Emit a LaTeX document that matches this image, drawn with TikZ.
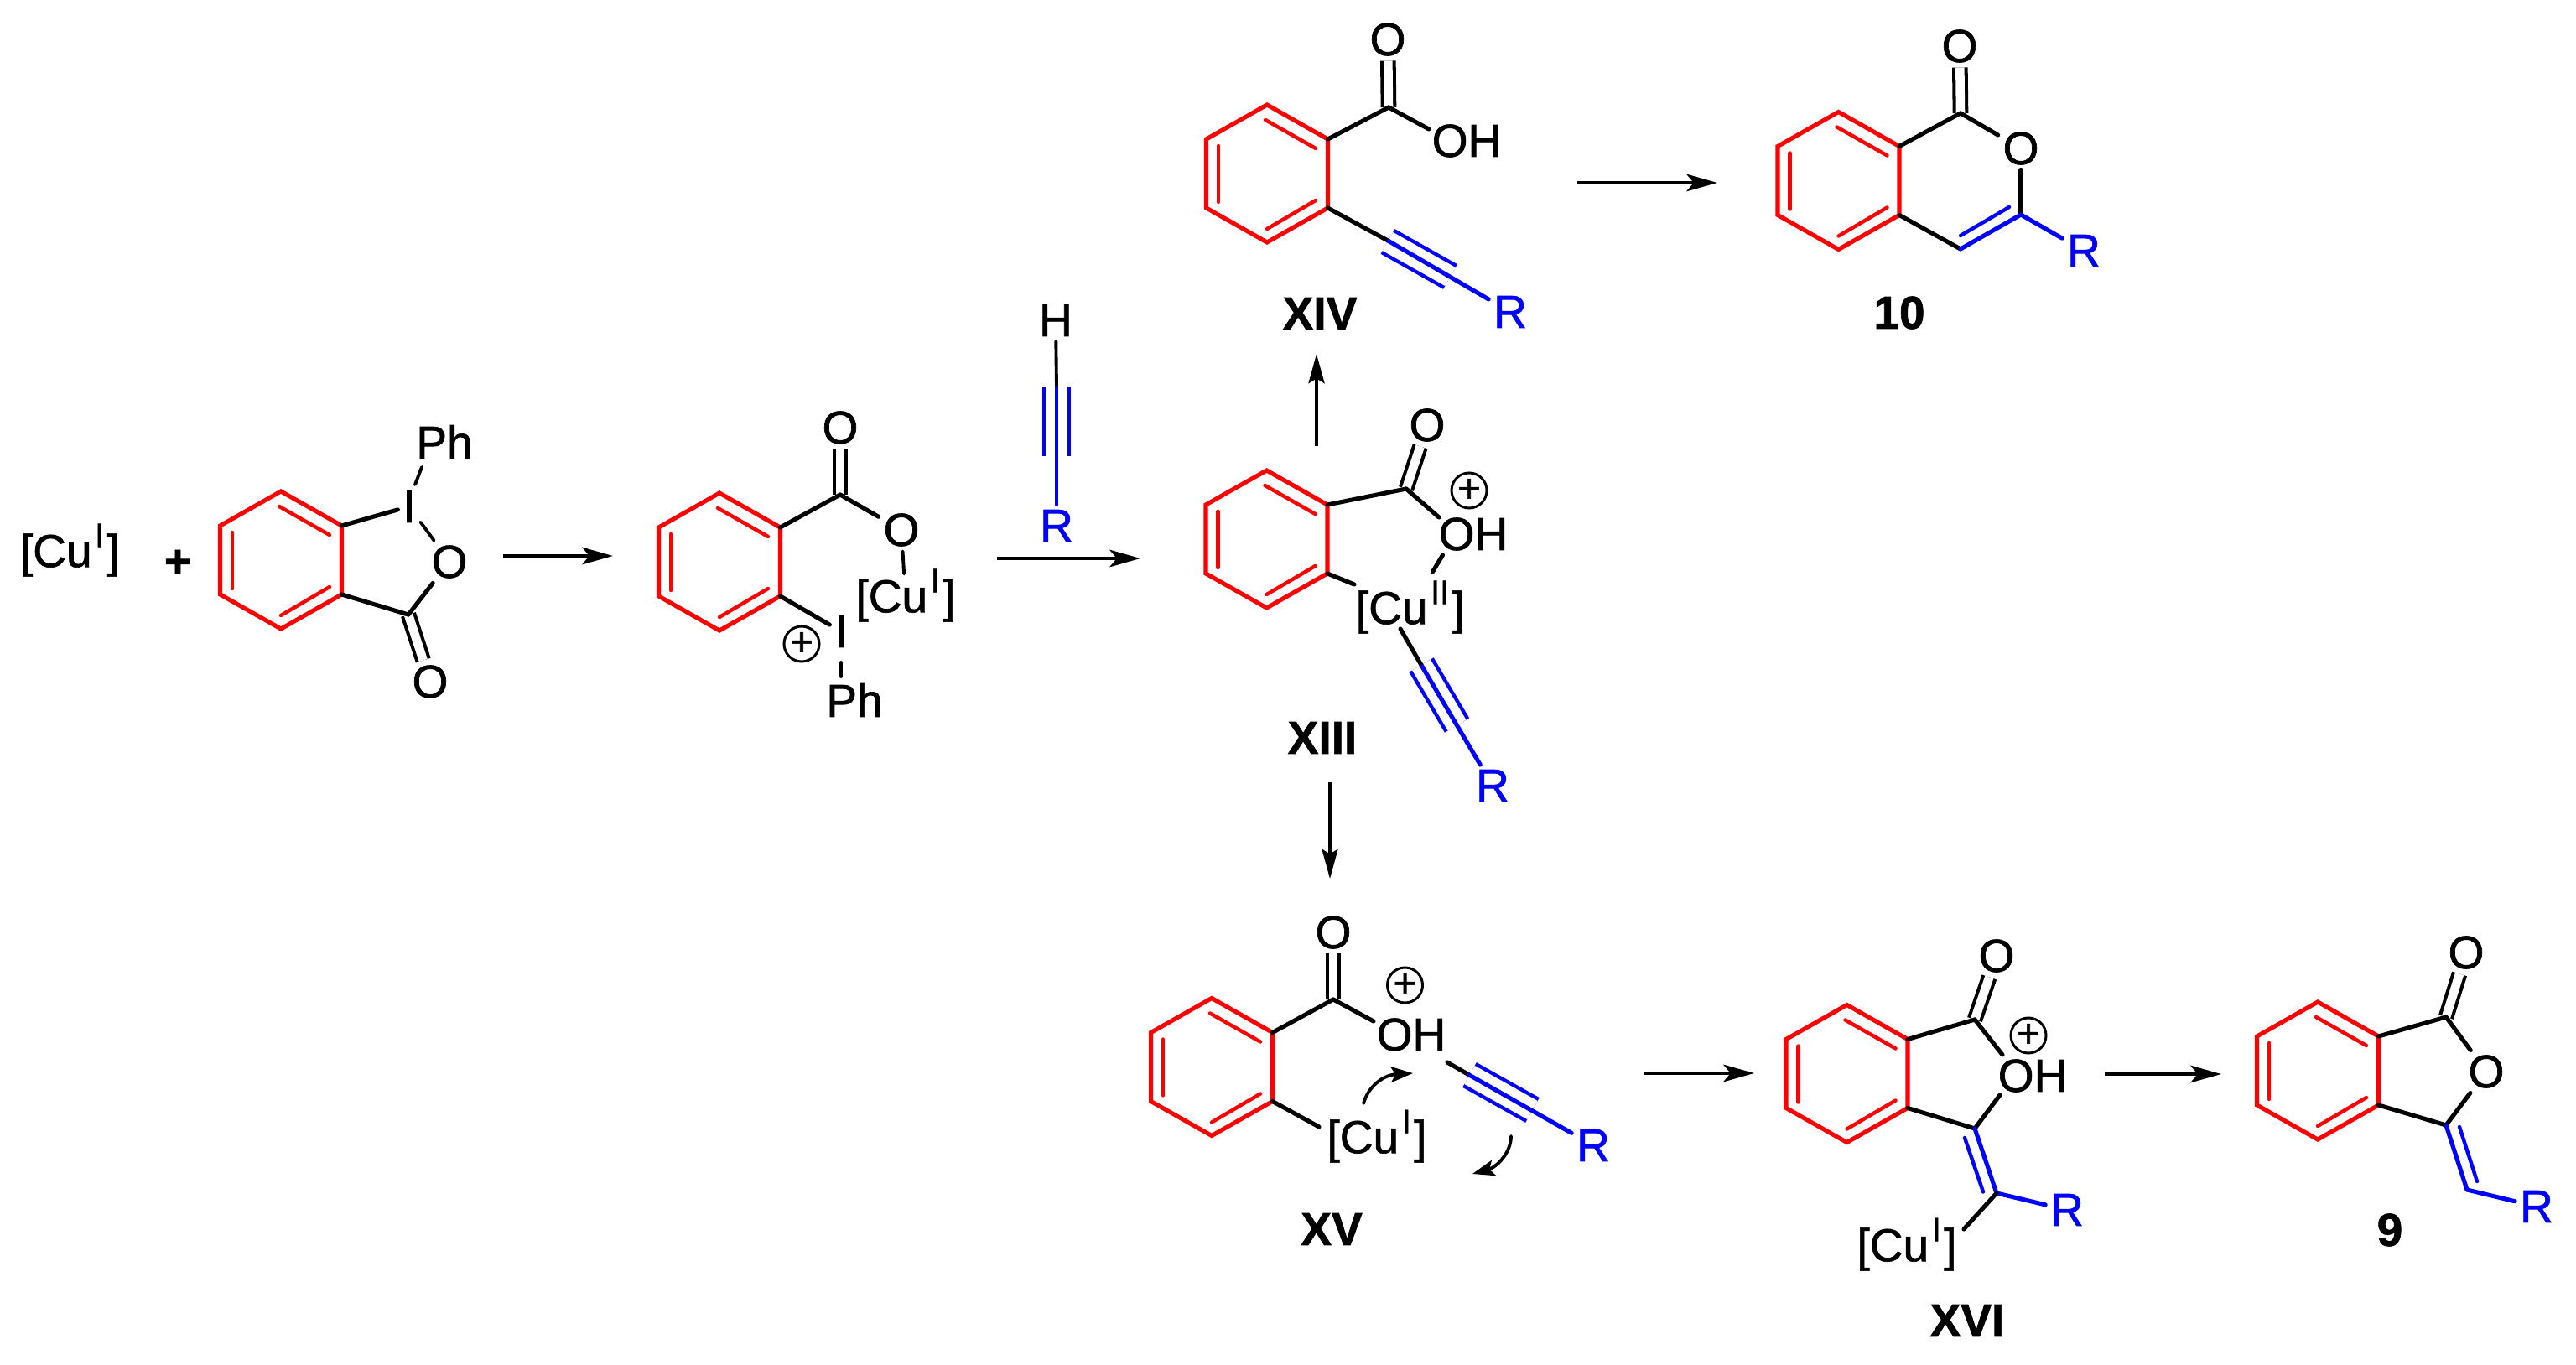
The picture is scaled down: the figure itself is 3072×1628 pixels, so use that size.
\documentclass[tikz,border=0pt]{standalone}
\usepackage{fontspec}
\setmainfont{Liberation Sans}[FakeBold=1.2]
\usetikzlibrary{arrows.meta}
\definecolor{ringred}{rgb}{1,0,0}
\definecolor{alkblue}{rgb}{0,0,1}
\newcommand{\cuox}[1]{[Cu\kern1pt\smash{\raisebox{6.8pt}{\fontsize{11.4pt}{11.4pt}\selectfont #1}}\kern1pt]}
\newcommand{\benzring}[3]{%
  \begin{scope}[shift={(#2,#3)}]
    \coordinate (#1t) at (0,-82);
    \coordinate (#1ur) at (72.5,-41);
    \coordinate (#1lr) at (72.5,41);
    \coordinate (#1b) at (0,82);
    \coordinate (#1ll) at (-72.5,41);
    \coordinate (#1ul) at (-72.5,-41);
    \draw[ringbond] (#1t) -- (#1ur) -- (#1lr) -- (#1b) -- (#1ll) -- (#1ul) -- cycle;
    \draw[ringinner] (-2,-64) -- (58,-30);
    \draw[ringinner] (-58,-33) -- (-58,34);
    \draw[ringinner] (58,32) -- (0,66);
  \end{scope}}
\tikzset{
  every node/.style={inner sep=0pt,font=\fontsize{15.65pt}{18pt}\selectfont},
  atom/.style={inner sep=1.5pt},
  rgroup/.style={inner sep=1.5pt,text=alkblue},
  cpdlabel/.style={font=\fontsize{15.65pt}{18pt}\selectfont\bfseries},
  charge/.style={circle,draw,line width=0.85pt,minimum size=0.42cm,font=\fontsize{13.6pt}{14pt}\selectfont},
  bond/.style={line width=1.45pt,line cap=round,line join=round},
  thinbond/.style={line width=1.1pt,line cap=round},
  bluebond/.style={bond,draw=alkblue},
  bluethin/.style={thinbond,draw=alkblue},
  blueinner/.style={line width=1.25pt,line cap=round,draw=alkblue},
  ringbond/.style={line width=1.45pt,draw=ringred,line join=miter},
  ringinner/.style={line width=1.25pt,line cap=round,draw=ringred},
  dblbond/.style={line width=1.15pt,line cap=butt,double,double distance=3pt},
  tripside/.style={line width=1.25pt,line cap=butt,draw=alkblue,double,double distance=7.2pt},
  rxn/.style={line width=1.3pt,-{Stealth[length=10.4pt,width=5.8pt,inset=2.4pt]}},
  rxnthin/.style={line width=1.1pt,-{Stealth[length=10pt,width=5.4pt,inset=1.6pt]}},
  curly/.style={line width=1.1pt,line cap=round,-{Stealth[length=7.5pt,width=5.4pt,inset=1.6pt]}},
}
\begin{document}
\begin{tikzpicture}[x=0.01cm,y=-0.01cm]
\useasboundingbox (0,0) rectangle (3072,1628);

\node (cuzero) at (83.5,662) {\cuox{I}};
\node[cpdlabel] (plus) at (212,672) {+};

\benzring{pa}{335}{668}
\node[atom] (paI) at (488,604) {I};
\node[atom] (paO) at (536,670) {O};
\node[atom] (paOx) at (513,813) {O};
\node[atom] (paPh) at (530,527) {Ph};
\coordinate (paC) at (487,733);
\coordinate (paIa) at (495,578);
\coordinate (paIb) at (503,557);
\draw[dblbond] (paC) -- (paOx);
\draw[bond] (paur) -- (paI);
\draw[thinbond] (paIa) -- (paIb);
\draw[thinbond] (paI) -- (paO);
\draw[bond] (paO) -- (paC);
\draw[bond] (palr) -- (paC);

\coordinate (arrAa) at (600,663);
\coordinate (arrAb) at (731,663);
\draw[rxn] (arrAa) -- (arrAb);

\benzring{pb}{858}{670}
\coordinate (pbC) at (1002,590);
\node[atom] (pbOx) at (1002,510) {O};
\node[atom] (pbO) at (1075,632) {O};
\node (pbCu) at (1080,716) [atom] {\cuox{I}};
\node[atom] (pbI) at (1003,753) {I};
\node[atom] (pbPh) at (1019,835) {Ph};
\node[charge] (pbplus) at (956,768) {+};
\coordinate (pbIa) at (1003,790);
\coordinate (pbIb) at (1003,807);
\draw[dblbond] (pbC) -- (pbOx);
\draw[bond] (pbur) -- (pbC);
\draw[bond] (pbC) -- (pbO);
\draw[thinbond] (pbO) -- (pbCu);
\draw[bond] (pblr) -- (pbI);
\draw[thinbond] (pbIa) -- (pbIb);

\coordinate (arrBa) at (1189,666);
\coordinate (arrBb) at (1360,666);
\draw[rxn] (arrBa) -- (arrBb);

\node[atom] (ynH) at (1259,382) {H};
\node[rgroup] (ynR) at (1260,627) {R};
\coordinate (ynM) at (1260,462);
\coordinate (ynT) at (1260,461);
\coordinate (ynU) at (1260,544);
\draw[tripside,line width=1.05pt,double distance=7.4pt] (ynT) -- (ynU);
\draw[thinbond] (ynH) -- (ynM);
\draw[bluethin] (ynM) -- (ynR);

\benzring{xiii}{1510.5}{643}
\coordinate (xiiiC) at (1677,583);
\node[atom] (xiiiOx) at (1702,507) {O};
\node[atom] (xiiiOH) at (1757,637) {OH};
\node[charge] (xiiiplus) at (1752,585) {+};
\node (xiiiCu) at (1682,730) {\cuox{II}};
\node[rgroup] (xiiiR) at (1780,937) {R};
\node[cpdlabel] (xiiilab) at (1577,880) {XIII};
\coordinate (xiiiOa) at (1716,617);
\coordinate (xiiiOb) at (1720.5,662);
\coordinate (xiiiOc) at (1708.5,682);
\coordinate (xiiiCa) at (1615,697);
\coordinate (xiiiCb) at (1670,750);
\coordinate (xiiiM) at (1696,795);
\coordinate (xiiiT) at (1695,793);
\coordinate (xiiiU) at (1737.5,865);
\draw[dblbond] (xiiiC) -- (xiiiOx);
\draw[bond] (xiiiur) -- (xiiiC);
\draw[bond] (xiiiC) -- (xiiiOa);
\draw[bond] (xiiiOb) -- (xiiiOc);
\draw[bond] (xiiilr) -- (xiiiCa);
\draw[tripside] (xiiiT) -- (xiiiU);
\draw[bond] (xiiiCb) -- (xiiiM);
\draw[bluebond] (xiiiM) -- (xiiiR);

\coordinate (arrCa) at (1570,532);
\coordinate (arrCb) at (1570,422);
\draw[rxnthin] (arrCa) -- (arrCb);

\benzring{xiv}{1511}{207}
\coordinate (xivC) at (1656,128);
\node[atom] (xivOx) at (1655,47) {O};
\node[atom] (xivOH) at (1749,168) {OH};
\node[rgroup] (xivR) at (1801,372) {R};
\node[cpdlabel] (xivlab) at (1574,374) {XIV};
\coordinate (xivOa) at (1704,154);
\coordinate (xivM) at (1656,287.5);
\coordinate (xivT) at (1655,288);
\coordinate (xivU) at (1729.5,330);
\draw[dblbond] (xivC) -- (xivOx);
\draw[bond] (xivur) -- (xivC);
\draw[bond] (xivC) -- (xivOa);
\draw[tripside] (xivT) -- (xivU);
\draw[bond] (xivlr) -- (xivM);
\draw[bluebond] (xivM) -- (xivR);

\coordinate (arrDa) at (1881,218);
\coordinate (arrDb) at (2048,218);
\draw[rxn] (arrDa) -- (arrDb);

\benzring{ten}{2192.5}{215.5}
\coordinate (tenC) at (2338,135);
\coordinate (tenD) at (2410,256);
\coordinate (tenE) at (2338,297);
\coordinate (tenIa) at (2396,247);
\coordinate (tenIb) at (2338,281);
\node[atom] (tenOx) at (2337,55) {O};
\node[atom] (tenO) at (2410,177) {O};
\node[rgroup] (tenR) at (2485,299) {R};
\node[cpdlabel] (tenlab) at (2265,373) {10};
\draw[dblbond] (tenC) -- (tenOx);
\draw[bond] (tenur) -- (tenC);
\draw[bond] (tenC) -- (tenO);
\draw[bond] (tenO) -- (tenD);
\draw[bond] (tenlr) -- (tenE);
\draw[bluebond] (tenD) -- (tenE);
\draw[blueinner] (tenIa) -- (tenIb);
\draw[bluebond] (tenD) -- (tenR);

\coordinate (arrEa) at (1586,933);
\coordinate (arrEb) at (1586,1048);
\draw[rxnthin] (arrEa) -- (arrEb);

\benzring{xv}{1445}{1272.5}
\coordinate (xvC) at (1590,1192);
\node[atom] (xvOx) at (1590,1112) {O};
\node[atom] (xvOH) at (1683,1234) {OH};
\node[charge] (xvplus) at (1675.5,1175) {+};
\node (xvCu) at (1642,1361) {\cuox{I}};
\node[rgroup] (xvR) at (1900,1366) {R};
\node[cpdlabel] (xvlab) at (1588,1466) {XV};
\coordinate (xvOa) at (1638,1218);
\coordinate (xvCa) at (1573,1344);
\coordinate (xvS) at (1726,1267);
\coordinate (xvM) at (1752,1282);
\coordinate (xvT) at (1752.5,1282);
\coordinate (xvU) at (1827.5,1324);
\coordinate (cvAa) at (1626,1316);
\coordinate (cvAb) at (1685,1280);
\coordinate (cvBa) at (1802,1355);
\coordinate (cvBb) at (1756,1400);
\draw[dblbond] (xvC) -- (xvOx);
\draw[bond] (xvur) -- (xvC);
\draw[bond] (xvC) -- (xvOa);
\draw[bond] (xvlr) -- (xvCa);
\draw[tripside] (xvT) -- (xvU);
\draw[bond] (xvS) -- (xvM);
\draw[bluebond] (xvM) -- (xvR);
\draw[curly] (cvAa) .. controls (1632,1295) and (1650,1282) .. (cvAb);
\draw[curly] (cvBa) .. controls (1802,1375) and (1785,1392) .. (cvBb);

\coordinate (arrFa) at (1960,1280);
\coordinate (arrFb) at (2092,1280);
\draw[rxn] (arrFa) -- (arrFb);

\benzring{xvi}{2202.5}{1280.5}
\coordinate (xviC) at (2355,1216);
\coordinate (xviD) at (2355,1346);
\coordinate (xviE) at (2381,1423);
\coordinate (xviOa) at (2388,1258);
\coordinate (xviOb) at (2385,1306);
\coordinate (xviIa) at (2343,1357);
\coordinate (xviIb) at (2365,1421.5);
\coordinate (xviCa) at (2342,1466);
\node[atom] (xviOx) at (2381,1140) {O};
\node[atom] (xviOH) at (2424,1283) {OH};
\node[charge] (xviplus) at (2419,1235) {+};
\node[rgroup] (xviR) at (2465,1443) {R};
\node (xviCu) at (2274,1490) {\cuox{I}};
\node[cpdlabel] (xvilab) at (2346,1575) {XVI};
\draw[dblbond] (xviC) -- (xviOx);
\draw[bond] (xviur) -- (xviC);
\draw[bond] (xviC) -- (xviOa);
\draw[bond] (xviOb) -- (xviD);
\draw[bond] (xvilr) -- (xviD);
\draw[bluebond] (xviD) -- (xviE);
\draw[blueinner] (xviIa) -- (xviIb);
\draw[bluebond] (xviE) -- (xviR);
\draw[bond] (xviE) -- (xviCa);

\coordinate (arrGa) at (2510,1281);
\coordinate (arrGb) at (2649,1281);
\draw[rxn] (arrGa) -- (arrGb);

\benzring{nin}{2764}{1277}
\coordinate (ninC) at (2917,1213);
\coordinate (ninD) at (2917,1342);
\coordinate (ninE) at (2942,1419);
\coordinate (ninIa) at (2933,1344);
\coordinate (ninIb) at (2954,1409);
\node[atom] (ninOx) at (2941,1136) {O};
\node[atom] (ninO) at (2965,1278) {O};
\node[rgroup] (ninR) at (3025,1439) {R};
\node[cpdlabel] (ninlab) at (2850,1467) {9};
\draw[dblbond] (ninC) -- (ninOx);
\draw[bond] (ninur) -- (ninC);
\draw[bond] (ninC) -- (ninO);
\draw[bond] (ninO) -- (ninD);
\draw[bond] (ninlr) -- (ninD);
\draw[bluebond] (ninD) -- (ninE);
\draw[blueinner] (ninIa) -- (ninIb);
\draw[bluebond] (ninE) -- (ninR);
\end{tikzpicture}
\end{document}
